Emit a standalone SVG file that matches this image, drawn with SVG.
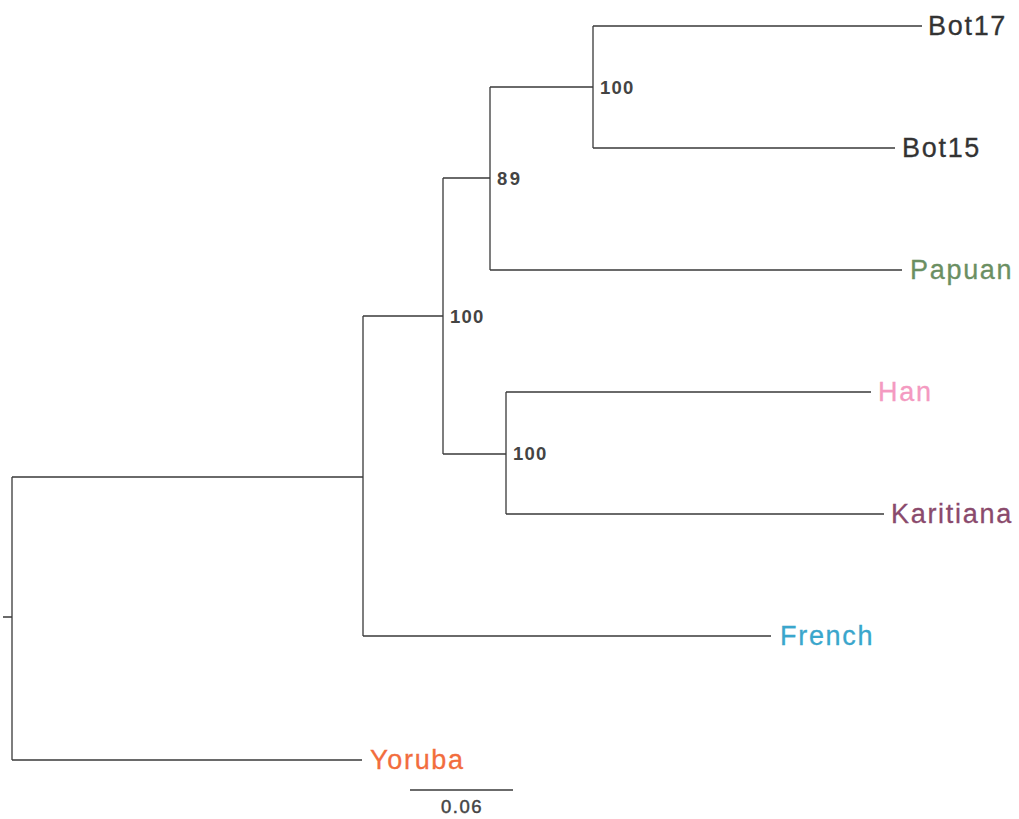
<svg xmlns="http://www.w3.org/2000/svg" width="1019" height="819" viewBox="0 0 1019 819">
  <style>
    .br { fill: none; stroke: #3a3a3a; stroke-width: 1.3; }
    .tip { font-family: "Liberation Sans", Arial, sans-serif; font-size: 27px; letter-spacing: 1.7px; stroke-width: 0.3px; }
    .bs { font-family: "Liberation Sans", Arial, sans-serif; font-size: 18.5px; font-weight: bold; letter-spacing: 1.2px; fill: #444; }
    .sc { font-family: "Liberation Sans", Arial, sans-serif; font-size: 18.5px; letter-spacing: 1.5px; fill: #444; stroke: #444; stroke-width: 0.45px; }
  </style>
  <rect width="1019" height="819" fill="#fff"/>
  <!-- tree branches -->
  <g id="connectors">
    <path class="br" d="M3,617 H12 M12,477 V760 M12,477 H363 M12,760 H362"/>
    <path class="br" d="M363,316 V636 M363,636 H771 M363,316 H443"/>
    <path class="br" d="M443,178 V454 M443,178 H490 M443,454 H506"/>
    <path class="br" d="M490,87 V270 M490,270 H902 M490,87 H593"/>
    <path class="br" d="M593,26 V148 M593,26 H922 M593,148 H895"/>
    <path class="br" d="M506,392 V514 M506,392 H871 M506,514 H884"/>
  </g>
  <!-- support values -->
  <g id="support">
    <text class="bs" x="600" y="94">100</text>
    <text class="bs" x="497" y="185" style="letter-spacing:2.5px">89</text>
    <text class="bs" x="450" y="323">100</text>
    <text class="bs" x="513" y="460">100</text>
  </g>
  <!-- leaves -->
  <g id="bot17"><text class="tip" x="928" y="35" fill="#333" stroke="#333">Bot17</text></g>
  <g id="bot15"><text class="tip" x="902" y="157" fill="#333" stroke="#333">Bot15</text></g>
  <g id="papuan"><text class="tip" x="910" y="279" fill="#6b8f62" stroke="#6b8f62">Papuan</text></g>
  <g id="han"><text class="tip" x="878" y="401" fill="#f49ac1" stroke="#f49ac1">Han</text></g>
  <g id="karitiana"><text class="tip" x="891" y="523" fill="#8a4a6c" stroke="#8a4a6c">Karitiana</text></g>
  <g id="french"><text class="tip" x="780" y="645" fill="#3aa6cc" stroke="#3aa6cc">French</text></g>
  <g id="yoruba"><text class="tip" x="370" y="769" fill="#f26d3d" stroke="#f26d3d">Yoruba</text></g>
  <!-- scale bar -->
  <g id="scale">
    <path class="br" d="M410,790 H513"/>
    <text class="sc" x="462" y="813" text-anchor="middle">0.06</text>
  </g>
</svg>
